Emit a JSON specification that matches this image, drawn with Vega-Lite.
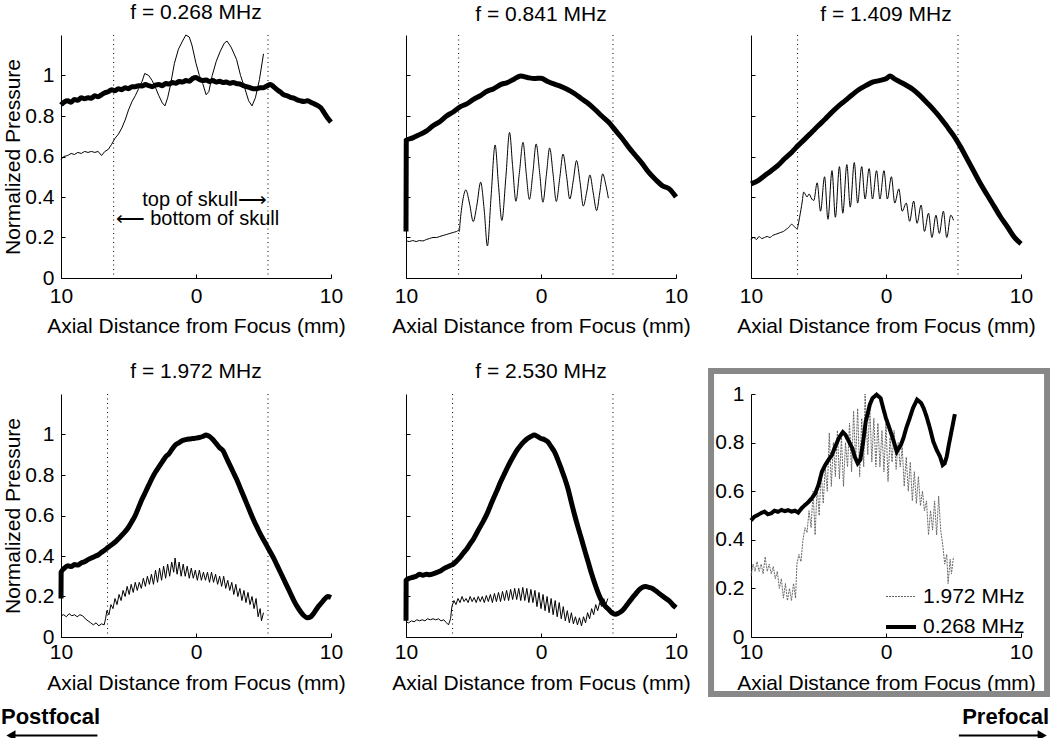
{
"$schema":"https://vega.github.io/schema/vega-lite/v6.json",
"padding":{"left":1,"top":2,"right":0,"bottom":0},
"background":"white",
"config":{
 "font":"Liberation Sans",
 "view":{"stroke":null},
 "axis":{"domainColor":"black","tickColor":"black","tickSize":-4,"labelColor":"black","labelFont":"Liberation Sans","labelFontSize":21,"titleColor":"black","titleFont":"Liberation Sans","titleFontSize":21,"titleFontWeight":"normal","grid":false},
 "title":{"font":"Liberation Sans","fontSize":21,"fontWeight":"normal","color":"black","offset":10},
 "legend":{"labelFont":"Liberation Sans","labelFontSize":21,"labelColor":"black"}
},
"datasets":{
 "skull":[{"p":1,"x":-6.1},{"p":1,"x":5.33},{"p":2,"x":-6.1},{"p":2,"x":5.33},{"p":3,"x":-6.55},{"p":3,"x":5.33},{"p":4,"x":-6.55},{"p":4,"x":5.33},{"p":5,"x":-6.55},{"p":5,"x":5.33}],
 "notes":[{"t":"top of skull⟶","x":5.25,"y":0.383,"a":"r"},{"t":"⟵ bottom of skull","x":-5.95,"y":0.293,"a":"l"}],
 "p1thin":[{"x":-10,"y":0.585},{"x":-9.8,"y":0.6},{"x":-9.5,"y":0.605},{"x":-9.25,"y":0.615},{"x":-9,"y":0.61},{"x":-8.75,"y":0.62},{"x":-8.5,"y":0.615},{"x":-8.25,"y":0.625},{"x":-8,"y":0.62},{"x":-7.75,"y":0.625},{"x":-7.5,"y":0.62},{"x":-7.25,"y":0.625},{"x":-7,"y":0.605},{"x":-6.75,"y":0.625},{"x":-6.5,"y":0.635},{"x":-6.25,"y":0.66},{"x":-6,"y":0.69},{"x":-5.75,"y":0.71},{"x":-5.5,"y":0.74},{"x":-5.25,"y":0.78},{"x":-5,"y":0.83},{"x":-4.75,"y":0.87},{"x":-4.5,"y":0.9},{"x":-4.25,"y":0.935},{"x":-4,"y":0.97},{"x":-3.8,"y":1.01},{"x":-3.5,"y":1.0},{"x":-3.25,"y":0.975},{"x":-3,"y":0.94},{"x":-2.75,"y":0.9},{"x":-2.5,"y":0.865},{"x":-2.3,"y":0.85},{"x":-2.1,"y":0.89},{"x":-1.9,"y":0.95},{"x":-1.6,"y":1.06},{"x":-1.3,"y":1.13},{"x":-1,"y":1.17},{"x":-0.75,"y":1.2},{"x":-0.5,"y":1.19},{"x":-0.3,"y":1.15},{"x":0,"y":1.06},{"x":0.25,"y":1.0},{"x":0.5,"y":0.96},{"x":0.75,"y":0.905},{"x":0.95,"y":0.92},{"x":1.2,"y":1.0},{"x":1.5,"y":1.07},{"x":1.8,"y":1.12},{"x":2.1,"y":1.16},{"x":2.3,"y":1.17},{"x":2.6,"y":1.14},{"x":3,"y":1.08},{"x":3.3,"y":1.0},{"x":3.6,"y":0.94},{"x":3.9,"y":0.875},{"x":4.15,"y":0.85},{"x":4.4,"y":0.89},{"x":4.7,"y":0.98},{"x":5,"y":1.107}],
 "p1thick":[{"x":-10,"y":0.855},{"x":-9.75,"y":0.87},{"x":-9.5,"y":0.875},{"x":-9.25,"y":0.868},{"x":-9,"y":0.882},{"x":-8.75,"y":0.878},{"x":-8.5,"y":0.89},{"x":-8.25,"y":0.885},{"x":-8,"y":0.89},{"x":-7.75,"y":0.888},{"x":-7.5,"y":0.9},{"x":-7.25,"y":0.895},{"x":-7,"y":0.905},{"x":-6.75,"y":0.915},{"x":-6.5,"y":0.92},{"x":-6.25,"y":0.93},{"x":-6,"y":0.925},{"x":-5.75,"y":0.935},{"x":-5.5,"y":0.93},{"x":-5.25,"y":0.94},{"x":-5,"y":0.935},{"x":-4.75,"y":0.945},{"x":-4.5,"y":0.945},{"x":-4.25,"y":0.95},{"x":-4,"y":0.948},{"x":-3.75,"y":0.955},{"x":-3.5,"y":0.95},{"x":-3.25,"y":0.945},{"x":-3,"y":0.952},{"x":-2.75,"y":0.955},{"x":-2.5,"y":0.95},{"x":-2.25,"y":0.96},{"x":-2,"y":0.958},{"x":-1.75,"y":0.965},{"x":-1.5,"y":0.962},{"x":-1.25,"y":0.97},{"x":-1,"y":0.968},{"x":-0.75,"y":0.975},{"x":-0.5,"y":0.972},{"x":-0.25,"y":0.985},{"x":0,"y":0.99},{"x":0.25,"y":0.98},{"x":0.5,"y":0.975},{"x":0.75,"y":0.978},{"x":1,"y":0.97},{"x":1.25,"y":0.975},{"x":1.5,"y":0.968},{"x":1.75,"y":0.972},{"x":2,"y":0.965},{"x":2.25,"y":0.968},{"x":2.5,"y":0.962},{"x":2.75,"y":0.966},{"x":3,"y":0.96},{"x":3.25,"y":0.958},{"x":3.5,"y":0.95},{"x":3.75,"y":0.945},{"x":4,"y":0.94},{"x":4.25,"y":0.935},{"x":4.5,"y":0.935},{"x":4.75,"y":0.94},{"x":5,"y":0.94},{"x":5.25,"y":0.948},{"x":5.5,"y":0.955},{"x":5.75,"y":0.945},{"x":6,"y":0.93},{"x":6.25,"y":0.918},{"x":6.5,"y":0.905},{"x":6.75,"y":0.9},{"x":7,"y":0.892},{"x":7.25,"y":0.888},{"x":7.5,"y":0.88},{"x":7.75,"y":0.875},{"x":8,"y":0.872},{"x":8.25,"y":0.875},{"x":8.5,"y":0.868},{"x":8.75,"y":0.86},{"x":9,"y":0.852},{"x":9.25,"y":0.84},{"x":9.5,"y":0.815},{"x":9.75,"y":0.79},{"x":10,"y":0.77}],
 "p2thin":[{"x":-10,"y":0.185},{"x":-9.75,"y":0.18},{"x":-9.5,"y":0.185},{"x":-9.25,"y":0.18},{"x":-9,"y":0.185},{"x":-8.75,"y":0.183},{"x":-8.5,"y":0.19},{"x":-8.25,"y":0.195},{"x":-8,"y":0.2},{"x":-7.75,"y":0.2},{"x":-7.5,"y":0.205},{"x":-7.25,"y":0.21},{"x":-7,"y":0.215},{"x":-6.75,"y":0.22},{"x":-6.5,"y":0.225},{"x":-6.25,"y":0.23},{"x":-6.1,"y":0.235},{"x":-6.05,"y":0.23},{"x":-6.0,"y":0.27},{"x":-5.8,"y":0.38},{"x":-5.57,"y":0.435},{"x":-5.3,"y":0.37},{"x":-5.02,"y":0.279},{"x":-4.75,"y":0.36},{"x":-4.47,"y":0.473},{"x":-4.2,"y":0.33},{"x":-3.97,"y":0.158},{"x":-3.7,"y":0.4},{"x":-3.4,"y":0.657},{"x":-3.15,"y":0.46},{"x":-2.9,"y":0.284},{"x":-2.6,"y":0.5},{"x":-2.33,"y":0.719},{"x":-2.1,"y":0.55},{"x":-1.86,"y":0.379},{"x":-1.6,"y":0.52},{"x":-1.33,"y":0.67},{"x":-1.1,"y":0.52},{"x":-0.86,"y":0.388},{"x":-0.6,"y":0.52},{"x":-0.36,"y":0.662},{"x":-0.1,"y":0.52},{"x":0.14,"y":0.374},{"x":0.4,"y":0.51},{"x":0.64,"y":0.642},{"x":0.9,"y":0.51},{"x":1.13,"y":0.378},{"x":1.4,"y":0.5},{"x":1.63,"y":0.612},{"x":1.9,"y":0.5},{"x":2.13,"y":0.39},{"x":2.4,"y":0.485},{"x":2.63,"y":0.58},{"x":2.9,"y":0.47},{"x":3.13,"y":0.355},{"x":3.4,"y":0.43},{"x":3.62,"y":0.509},{"x":3.87,"y":0.42},{"x":4.12,"y":0.333},{"x":4.35,"y":0.42},{"x":4.57,"y":0.514},{"x":4.8,"y":0.46},{"x":4.99,"y":0.394}],
 "p2thick":[{"x":-10,"y":0.23},{"x":-9.98,"y":0.68},{"x":-9.5,"y":0.692},{"x":-9,"y":0.708},{"x":-8.5,"y":0.725},{"x":-8,"y":0.752},{"x":-7.5,"y":0.772},{"x":-7,"y":0.8},{"x":-6.5,"y":0.82},{"x":-6,"y":0.845},{"x":-5.5,"y":0.86},{"x":-5,"y":0.882},{"x":-4.5,"y":0.9},{"x":-4,"y":0.922},{"x":-3.5,"y":0.935},{"x":-3,"y":0.955},{"x":-2.5,"y":0.965},{"x":-2,"y":0.982},{"x":-1.5,"y":0.997},{"x":-1,"y":0.99},{"x":-0.5,"y":0.985},{"x":0,"y":0.987},{"x":0.5,"y":0.97},{"x":1,"y":0.957},{"x":1.5,"y":0.945},{"x":2,"y":0.93},{"x":2.5,"y":0.91},{"x":3,"y":0.885},{"x":3.5,"y":0.862},{"x":4,"y":0.832},{"x":4.5,"y":0.8},{"x":5,"y":0.77},{"x":5.5,"y":0.73},{"x":6,"y":0.69},{"x":6.5,"y":0.645},{"x":7,"y":0.605},{"x":7.5,"y":0.565},{"x":8,"y":0.52},{"x":8.5,"y":0.485},{"x":9,"y":0.455},{"x":9.5,"y":0.44},{"x":10,"y":0.4}],
 "p3thin":[{"x":-10,"y":0.19},{"x":-9.8,"y":0.2},{"x":-9.6,"y":0.19},{"x":-9.4,"y":0.205},{"x":-9.2,"y":0.195},{"x":-9,"y":0.2},{"x":-8.8,"y":0.205},{"x":-8.6,"y":0.2},{"x":-8.4,"y":0.21},{"x":-8.2,"y":0.215},{"x":-8,"y":0.22},{"x":-7.8,"y":0.225},{"x":-7.6,"y":0.23},{"x":-7.4,"y":0.24},{"x":-7.2,"y":0.25},{"x":-7,"y":0.265},{"x":-6.8,"y":0.255},{"x":-6.6,"y":0.243},{"x":-6.4,"y":0.3},{"x":-6.2,"y":0.38},{"x":-6.1,"y":0.424},{"x":-5.95,"y":0.41},{"x":-5.85,"y":0.4},{"x":-5.7,"y":0.415},{"x":-5.5,"y":0.39},{"x":-5.35,"y":0.383},{"x":-5.1,"y":0.47},{"x":-4.85,"y":0.33},{"x":-4.55,"y":0.5},{"x":-4.3,"y":0.29},{"x":-4.0,"y":0.53},{"x":-3.75,"y":0.3},{"x":-3.45,"y":0.55},{"x":-3.2,"y":0.32},{"x":-2.9,"y":0.56},{"x":-2.65,"y":0.35},{"x":-2.35,"y":0.57},{"x":-2.1,"y":0.37},{"x":-1.8,"y":0.55},{"x":-1.55,"y":0.39},{"x":-1.25,"y":0.54},{"x":-1.0,"y":0.39},{"x":-0.7,"y":0.53},{"x":-0.45,"y":0.39},{"x":-0.15,"y":0.53},{"x":0.1,"y":0.39},{"x":0.4,"y":0.5},{"x":0.65,"y":0.37},{"x":0.95,"y":0.44},{"x":1.2,"y":0.33},{"x":1.5,"y":0.37},{"x":1.75,"y":0.28},{"x":2.05,"y":0.38},{"x":2.3,"y":0.27},{"x":2.6,"y":0.36},{"x":2.85,"y":0.23},{"x":3.15,"y":0.32},{"x":3.4,"y":0.2},{"x":3.7,"y":0.31},{"x":3.95,"y":0.22},{"x":4.25,"y":0.33},{"x":4.5,"y":0.2},{"x":4.8,"y":0.31},{"x":5.0,"y":0.285}],
 "p3thick":[{"x":-10,"y":0.465},{"x":-9.5,"y":0.48},{"x":-9,"y":0.505},{"x":-8.5,"y":0.53},{"x":-8,"y":0.556},{"x":-7.5,"y":0.59},{"x":-7,"y":0.62},{"x":-6.5,"y":0.655},{"x":-6,"y":0.687},{"x":-5.5,"y":0.72},{"x":-5,"y":0.753},{"x":-4.5,"y":0.785},{"x":-4,"y":0.819},{"x":-3.5,"y":0.85},{"x":-3,"y":0.877},{"x":-2.5,"y":0.905},{"x":-2,"y":0.931},{"x":-1.5,"y":0.95},{"x":-1,"y":0.967},{"x":-0.5,"y":0.975},{"x":0,"y":0.984},{"x":0.3,"y":0.997},{"x":0.6,"y":0.985},{"x":1,"y":0.97},{"x":1.5,"y":0.952},{"x":2,"y":0.931},{"x":2.5,"y":0.902},{"x":3,"y":0.868},{"x":3.5,"y":0.833},{"x":4,"y":0.794},{"x":4.5,"y":0.75},{"x":5,"y":0.704},{"x":5.5,"y":0.65},{"x":6,"y":0.589},{"x":6.5,"y":0.527},{"x":7,"y":0.465},{"x":7.5,"y":0.41},{"x":8,"y":0.355},{"x":8.5,"y":0.3},{"x":9,"y":0.252},{"x":9.5,"y":0.202},{"x":10,"y":0.169}],
 "p4thin":[{"x":-10,"y":0.105},{"x":-9.8,"y":0.11},{"x":-9.6,"y":0.1},{"x":-9.4,"y":0.115},{"x":-9.2,"y":0.105},{"x":-9,"y":0.11},{"x":-8.8,"y":0.1},{"x":-8.6,"y":0.11},{"x":-8.4,"y":0.105},{"x":-8.2,"y":0.09},{"x":-8,"y":0.08},{"x":-7.8,"y":0.07},{"x":-7.6,"y":0.06},{"x":-7.4,"y":0.07},{"x":-7.2,"y":0.055},{"x":-7,"y":0.065},{"x":-6.8,"y":0.06},{"x":-6.7,"y":0.09},{"x":-6.6,"y":0.13},{"x":-6.45,"y":0.11},{"x":-6.3,"y":0.16},{"x":-6.15,"y":0.14},{"x":-6.0,"y":0.19},{"x":-5.85,"y":0.16},{"x":-5.7,"y":0.21},{"x":-5.55,"y":0.18},{"x":-5.4,"y":0.23},{"x":-5.25,"y":0.2},{"x":-5.1,"y":0.25},{"x":-4.95,"y":0.21},{"x":-4.8,"y":0.26},{"x":-4.65,"y":0.22},{"x":-4.5,"y":0.27},{"x":-4.35,"y":0.23},{"x":-4.2,"y":0.27},{"x":-4.05,"y":0.24},{"x":-3.9,"y":0.29},{"x":-3.75,"y":0.25},{"x":-3.6,"y":0.3},{"x":-3.45,"y":0.26},{"x":-3.3,"y":0.31},{"x":-3.15,"y":0.26},{"x":-3.0,"y":0.33},{"x":-2.85,"y":0.27},{"x":-2.7,"y":0.34},{"x":-2.55,"y":0.28},{"x":-2.4,"y":0.35},{"x":-2.25,"y":0.29},{"x":-2.1,"y":0.36},{"x":-1.95,"y":0.3},{"x":-1.8,"y":0.37},{"x":-1.65,"y":0.32},{"x":-1.55,"y":0.39},{"x":-1.4,"y":0.31},{"x":-1.25,"y":0.37},{"x":-1.1,"y":0.3},{"x":-0.95,"y":0.36},{"x":-0.8,"y":0.3},{"x":-0.65,"y":0.35},{"x":-0.5,"y":0.29},{"x":-0.35,"y":0.34},{"x":-0.2,"y":0.29},{"x":-0.05,"y":0.33},{"x":0.1,"y":0.28},{"x":0.25,"y":0.33},{"x":0.4,"y":0.28},{"x":0.55,"y":0.32},{"x":0.7,"y":0.28},{"x":0.85,"y":0.32},{"x":1.0,"y":0.27},{"x":1.15,"y":0.32},{"x":1.3,"y":0.27},{"x":1.45,"y":0.31},{"x":1.6,"y":0.26},{"x":1.75,"y":0.3},{"x":1.9,"y":0.25},{"x":2.05,"y":0.3},{"x":2.2,"y":0.24},{"x":2.35,"y":0.28},{"x":2.5,"y":0.23},{"x":2.65,"y":0.27},{"x":2.8,"y":0.21},{"x":2.95,"y":0.26},{"x":3.1,"y":0.2},{"x":3.25,"y":0.24},{"x":3.4,"y":0.18},{"x":3.55,"y":0.23},{"x":3.7,"y":0.17},{"x":3.85,"y":0.22},{"x":4.0,"y":0.16},{"x":4.15,"y":0.2},{"x":4.3,"y":0.14},{"x":4.45,"y":0.19},{"x":4.6,"y":0.1},{"x":4.75,"y":0.14},{"x":4.85,"y":0.08},{"x":5.0,"y":0.12}],
 "p4thick":[{"x":-10,"y":0.19},{"x":-9.99,"y":0.32},{"x":-9.75,"y":0.34},{"x":-9.5,"y":0.352},{"x":-9.25,"y":0.348},{"x":-9,"y":0.358},{"x":-8.75,"y":0.355},{"x":-8.5,"y":0.366},{"x":-8.25,"y":0.372},{"x":-8,"y":0.382},{"x":-7.75,"y":0.39},{"x":-7.5,"y":0.398},{"x":-7.25,"y":0.405},{"x":-7,"y":0.418},{"x":-6.75,"y":0.43},{"x":-6.5,"y":0.443},{"x":-6.25,"y":0.455},{"x":-6,"y":0.468},{"x":-5.75,"y":0.485},{"x":-5.5,"y":0.502},{"x":-5.25,"y":0.52},{"x":-5,"y":0.542},{"x":-4.75,"y":0.57},{"x":-4.5,"y":0.6},{"x":-4.25,"y":0.64},{"x":-4,"y":0.68},{"x":-3.75,"y":0.715},{"x":-3.5,"y":0.75},{"x":-3.25,"y":0.785},{"x":-3,"y":0.815},{"x":-2.75,"y":0.84},{"x":-2.5,"y":0.865},{"x":-2.25,"y":0.89},{"x":-2,"y":0.905},{"x":-1.75,"y":0.93},{"x":-1.5,"y":0.95},{"x":-1.25,"y":0.96},{"x":-1,"y":0.97},{"x":-0.75,"y":0.975},{"x":-0.5,"y":0.978},{"x":-0.25,"y":0.98},{"x":0,"y":0.982},{"x":0.25,"y":0.985},{"x":0.5,"y":0.99},{"x":0.75,"y":0.998},{"x":1,"y":0.99},{"x":1.25,"y":0.975},{"x":1.5,"y":0.955},{"x":1.75,"y":0.935},{"x":2,"y":0.92},{"x":2.25,"y":0.885},{"x":2.5,"y":0.85},{"x":2.75,"y":0.815},{"x":3,"y":0.78},{"x":3.25,"y":0.74},{"x":3.5,"y":0.7},{"x":3.75,"y":0.66},{"x":4,"y":0.62},{"x":4.25,"y":0.58},{"x":4.5,"y":0.545},{"x":4.75,"y":0.51},{"x":5,"y":0.48},{"x":5.25,"y":0.45},{"x":5.5,"y":0.42},{"x":5.75,"y":0.39},{"x":6,"y":0.355},{"x":6.25,"y":0.32},{"x":6.5,"y":0.285},{"x":6.75,"y":0.25},{"x":7,"y":0.215},{"x":7.25,"y":0.18},{"x":7.5,"y":0.15},{"x":7.75,"y":0.125},{"x":8,"y":0.105},{"x":8.25,"y":0.095},{"x":8.5,"y":0.1},{"x":8.75,"y":0.12},{"x":9,"y":0.145},{"x":9.25,"y":0.165},{"x":9.5,"y":0.185},{"x":9.75,"y":0.2},{"x":10,"y":0.195}],
 "p5thin":[{"x":-10,"y":0.075},{"x":-9.8,"y":0.07},{"x":-9.6,"y":0.08},{"x":-9.4,"y":0.075},{"x":-9.2,"y":0.085},{"x":-9,"y":0.08},{"x":-8.8,"y":0.085},{"x":-8.6,"y":0.08},{"x":-8.4,"y":0.09},{"x":-8.2,"y":0.085},{"x":-8,"y":0.09},{"x":-7.8,"y":0.085},{"x":-7.6,"y":0.09},{"x":-7.4,"y":0.08},{"x":-7.2,"y":0.085},{"x":-7,"y":0.07},{"x":-6.85,"y":0.06},{"x":-6.7,"y":0.09},{"x":-6.6,"y":0.15},{"x":-6.45,"y":0.18},{"x":-6.3,"y":0.16},{"x":-6.15,"y":0.19},{"x":-6,"y":0.17},{"x":-5.85,"y":0.2},{"x":-5.7,"y":0.175},{"x":-5.55,"y":0.19},{"x":-5.4,"y":0.17},{"x":-5.25,"y":0.2},{"x":-5.1,"y":0.175},{"x":-4.95,"y":0.195},{"x":-4.8,"y":0.17},{"x":-4.65,"y":0.2},{"x":-4.5,"y":0.175},{"x":-4.35,"y":0.2},{"x":-4.2,"y":0.17},{"x":-4.05,"y":0.205},{"x":-3.9,"y":0.175},{"x":-3.75,"y":0.21},{"x":-3.6,"y":0.17},{"x":-3.45,"y":0.215},{"x":-3.3,"y":0.175},{"x":-3.15,"y":0.22},{"x":-3.0,"y":0.175},{"x":-2.85,"y":0.225},{"x":-2.7,"y":0.18},{"x":-2.55,"y":0.23},{"x":-2.4,"y":0.18},{"x":-2.25,"y":0.235},{"x":-2.1,"y":0.185},{"x":-1.95,"y":0.24},{"x":-1.8,"y":0.185},{"x":-1.65,"y":0.24},{"x":-1.5,"y":0.18},{"x":-1.35,"y":0.245},{"x":-1.2,"y":0.18},{"x":-1.05,"y":0.24},{"x":-0.9,"y":0.17},{"x":-0.75,"y":0.235},{"x":-0.6,"y":0.17},{"x":-0.45,"y":0.23},{"x":-0.3,"y":0.15},{"x":-0.15,"y":0.22},{"x":0,"y":0.14},{"x":0.15,"y":0.21},{"x":0.3,"y":0.13},{"x":0.45,"y":0.2},{"x":0.6,"y":0.12},{"x":0.75,"y":0.19},{"x":0.9,"y":0.11},{"x":1.05,"y":0.18},{"x":1.2,"y":0.1},{"x":1.35,"y":0.17},{"x":1.5,"y":0.09},{"x":1.65,"y":0.15},{"x":1.8,"y":0.08},{"x":1.95,"y":0.13},{"x":2.1,"y":0.07},{"x":2.25,"y":0.12},{"x":2.4,"y":0.065},{"x":2.55,"y":0.1},{"x":2.7,"y":0.06},{"x":2.85,"y":0.095},{"x":3.0,"y":0.055},{"x":3.15,"y":0.1},{"x":3.3,"y":0.07},{"x":3.45,"y":0.12},{"x":3.6,"y":0.09},{"x":3.75,"y":0.14},{"x":3.9,"y":0.11},{"x":4.05,"y":0.16},{"x":4.2,"y":0.13},{"x":4.35,"y":0.17},{"x":4.5,"y":0.15},{"x":4.65,"y":0.19},{"x":4.8,"y":0.16},{"x":4.95,"y":0.19}],
 "p5thick":[{"x":-10,"y":0.08},{"x":-9.99,"y":0.28},{"x":-9.75,"y":0.29},{"x":-9.5,"y":0.295},{"x":-9.25,"y":0.3},{"x":-9,"y":0.31},{"x":-8.75,"y":0.305},{"x":-8.5,"y":0.31},{"x":-8.25,"y":0.308},{"x":-8,"y":0.312},{"x":-7.75,"y":0.318},{"x":-7.5,"y":0.325},{"x":-7.25,"y":0.335},{"x":-7,"y":0.344},{"x":-6.75,"y":0.352},{"x":-6.5,"y":0.36},{"x":-6.25,"y":0.375},{"x":-6,"y":0.393},{"x":-5.75,"y":0.415},{"x":-5.5,"y":0.435},{"x":-5.25,"y":0.46},{"x":-5,"y":0.484},{"x":-4.75,"y":0.515},{"x":-4.5,"y":0.545},{"x":-4.25,"y":0.575},{"x":-4,"y":0.608},{"x":-3.75,"y":0.648},{"x":-3.5,"y":0.688},{"x":-3.25,"y":0.725},{"x":-3,"y":0.765},{"x":-2.75,"y":0.8},{"x":-2.5,"y":0.835},{"x":-2.25,"y":0.868},{"x":-2,"y":0.898},{"x":-1.75,"y":0.925},{"x":-1.5,"y":0.947},{"x":-1.25,"y":0.965},{"x":-1,"y":0.98},{"x":-0.75,"y":0.99},{"x":-0.5,"y":0.997},{"x":-0.25,"y":0.99},{"x":0,"y":0.98},{"x":0.25,"y":0.975},{"x":0.5,"y":0.964},{"x":0.75,"y":0.94},{"x":1,"y":0.914},{"x":1.25,"y":0.875},{"x":1.5,"y":0.831},{"x":1.75,"y":0.785},{"x":2,"y":0.732},{"x":2.25,"y":0.665},{"x":2.5,"y":0.6},{"x":2.75,"y":0.54},{"x":3,"y":0.484},{"x":3.25,"y":0.425},{"x":3.5,"y":0.369},{"x":3.75,"y":0.312},{"x":4,"y":0.261},{"x":4.25,"y":0.215},{"x":4.5,"y":0.178},{"x":4.75,"y":0.153},{"x":5,"y":0.137},{"x":5.25,"y":0.12},{"x":5.5,"y":0.112},{"x":5.75,"y":0.118},{"x":6,"y":0.129},{"x":6.25,"y":0.148},{"x":6.5,"y":0.17},{"x":6.75,"y":0.192},{"x":7,"y":0.212},{"x":7.25,"y":0.232},{"x":7.5,"y":0.245},{"x":7.75,"y":0.25},{"x":8,"y":0.245},{"x":8.25,"y":0.24},{"x":8.5,"y":0.228},{"x":8.75,"y":0.215},{"x":9,"y":0.203},{"x":9.25,"y":0.19},{"x":9.5,"y":0.178},{"x":9.75,"y":0.16},{"x":10,"y":0.145}],
 "p6":[{"s":"1.972 MHz","x":-10,"y":0.25},{"s":"1.972 MHz","x":-9.85,"y":0.3},{"s":"1.972 MHz","x":-9.7,"y":0.27},{"s":"1.972 MHz","x":-9.55,"y":0.31},{"s":"1.972 MHz","x":-9.4,"y":0.27},{"s":"1.972 MHz","x":-9.25,"y":0.3},{"s":"1.972 MHz","x":-9.1,"y":0.26},{"s":"1.972 MHz","x":-8.95,"y":0.33},{"s":"1.972 MHz","x":-8.8,"y":0.27},{"s":"1.972 MHz","x":-8.65,"y":0.3},{"s":"1.972 MHz","x":-8.5,"y":0.26},{"s":"1.972 MHz","x":-8.35,"y":0.29},{"s":"1.972 MHz","x":-8.2,"y":0.24},{"s":"1.972 MHz","x":-8.05,"y":0.27},{"s":"1.972 MHz","x":-7.9,"y":0.2},{"s":"1.972 MHz","x":-7.75,"y":0.24},{"s":"1.972 MHz","x":-7.6,"y":0.16},{"s":"1.972 MHz","x":-7.45,"y":0.22},{"s":"1.972 MHz","x":-7.3,"y":0.15},{"s":"1.972 MHz","x":-7.15,"y":0.2},{"s":"1.972 MHz","x":-7.0,"y":0.15},{"s":"1.972 MHz","x":-6.85,"y":0.22},{"s":"1.972 MHz","x":-6.7,"y":0.16},{"s":"1.972 MHz","x":-6.6,"y":0.3},{"s":"1.972 MHz","x":-6.45,"y":0.34},{"s":"1.972 MHz","x":-6.3,"y":0.31},{"s":"1.972 MHz","x":-6.15,"y":0.4},{"s":"1.972 MHz","x":-6.0,"y":0.45},{"s":"1.972 MHz","x":-5.85,"y":0.43},{"s":"1.972 MHz","x":-5.7,"y":0.52},{"s":"1.972 MHz","x":-5.55,"y":0.45},{"s":"1.972 MHz","x":-5.4,"y":0.6},{"s":"1.972 MHz","x":-5.25,"y":0.42},{"s":"1.972 MHz","x":-5.1,"y":0.62},{"s":"1.972 MHz","x":-4.95,"y":0.5},{"s":"1.972 MHz","x":-4.8,"y":0.68},{"s":"1.972 MHz","x":-4.65,"y":0.55},{"s":"1.972 MHz","x":-4.5,"y":0.7},{"s":"1.972 MHz","x":-4.35,"y":0.6},{"s":"1.972 MHz","x":-4.2,"y":0.84},{"s":"1.972 MHz","x":-4.05,"y":0.62},{"s":"1.972 MHz","x":-3.9,"y":0.8},{"s":"1.972 MHz","x":-3.75,"y":0.66},{"s":"1.972 MHz","x":-3.6,"y":0.85},{"s":"1.972 MHz","x":-3.45,"y":0.65},{"s":"1.972 MHz","x":-3.3,"y":0.82},{"s":"1.972 MHz","x":-3.15,"y":0.62},{"s":"1.972 MHz","x":-3.0,"y":0.8},{"s":"1.972 MHz","x":-2.85,"y":0.7},{"s":"1.972 MHz","x":-2.7,"y":0.88},{"s":"1.972 MHz","x":-2.55,"y":0.68},{"s":"1.972 MHz","x":-2.4,"y":0.93},{"s":"1.972 MHz","x":-2.25,"y":0.72},{"s":"1.972 MHz","x":-2.1,"y":0.94},{"s":"1.972 MHz","x":-1.95,"y":0.66},{"s":"1.972 MHz","x":-1.8,"y":0.9},{"s":"1.972 MHz","x":-1.65,"y":0.7},{"s":"1.972 MHz","x":-1.55,"y":1.0},{"s":"1.972 MHz","x":-1.35,"y":0.75},{"s":"1.972 MHz","x":-1.2,"y":0.95},{"s":"1.972 MHz","x":-1.05,"y":0.72},{"s":"1.972 MHz","x":-0.9,"y":0.9},{"s":"1.972 MHz","x":-0.75,"y":0.7},{"s":"1.972 MHz","x":-0.6,"y":0.88},{"s":"1.972 MHz","x":-0.45,"y":0.7},{"s":"1.972 MHz","x":-0.3,"y":0.85},{"s":"1.972 MHz","x":-0.15,"y":0.68},{"s":"1.972 MHz","x":0,"y":0.88},{"s":"1.972 MHz","x":0.15,"y":0.64},{"s":"1.972 MHz","x":0.3,"y":0.82},{"s":"1.972 MHz","x":0.45,"y":0.72},{"s":"1.972 MHz","x":0.6,"y":0.85},{"s":"1.972 MHz","x":0.75,"y":0.69},{"s":"1.972 MHz","x":0.9,"y":0.8},{"s":"1.972 MHz","x":1.05,"y":0.7},{"s":"1.972 MHz","x":1.2,"y":0.78},{"s":"1.972 MHz","x":1.35,"y":0.62},{"s":"1.972 MHz","x":1.5,"y":0.74},{"s":"1.972 MHz","x":1.65,"y":0.6},{"s":"1.972 MHz","x":1.8,"y":0.72},{"s":"1.972 MHz","x":1.95,"y":0.56},{"s":"1.972 MHz","x":2.1,"y":0.68},{"s":"1.972 MHz","x":2.25,"y":0.55},{"s":"1.972 MHz","x":2.4,"y":0.66},{"s":"1.972 MHz","x":2.55,"y":0.54},{"s":"1.972 MHz","x":2.7,"y":0.6},{"s":"1.972 MHz","x":2.85,"y":0.52},{"s":"1.972 MHz","x":3.0,"y":0.56},{"s":"1.972 MHz","x":3.15,"y":0.42},{"s":"1.972 MHz","x":3.3,"y":0.52},{"s":"1.972 MHz","x":3.45,"y":0.44},{"s":"1.972 MHz","x":3.6,"y":0.56},{"s":"1.972 MHz","x":3.75,"y":0.42},{"s":"1.972 MHz","x":3.9,"y":0.58},{"s":"1.972 MHz","x":4.05,"y":0.44},{"s":"1.972 MHz","x":4.2,"y":0.38},{"s":"1.972 MHz","x":4.35,"y":0.3},{"s":"1.972 MHz","x":4.5,"y":0.34},{"s":"1.972 MHz","x":4.6,"y":0.22},{"s":"1.972 MHz","x":4.75,"y":0.32},{"s":"1.972 MHz","x":4.85,"y":0.26},{"s":"1.972 MHz","x":5.0,"y":0.33},
 {"s":"0.268 MHz","x":-10,"y":0.48},{"s":"0.268 MHz","x":-9.75,"y":0.495},{"s":"0.268 MHz","x":-9.5,"y":0.502},{"s":"0.268 MHz","x":-9.25,"y":0.51},{"s":"0.268 MHz","x":-9,"y":0.516},{"s":"0.268 MHz","x":-8.75,"y":0.505},{"s":"0.268 MHz","x":-8.5,"y":0.509},{"s":"0.268 MHz","x":-8.25,"y":0.52},{"s":"0.268 MHz","x":-8,"y":0.515},{"s":"0.268 MHz","x":-7.75,"y":0.523},{"s":"0.268 MHz","x":-7.5,"y":0.518},{"s":"0.268 MHz","x":-7.25,"y":0.522},{"s":"0.268 MHz","x":-7,"y":0.516},{"s":"0.268 MHz","x":-6.75,"y":0.52},{"s":"0.268 MHz","x":-6.5,"y":0.512},{"s":"0.268 MHz","x":-6.25,"y":0.53},{"s":"0.268 MHz","x":-6,"y":0.543},{"s":"0.268 MHz","x":-5.75,"y":0.555},{"s":"0.268 MHz","x":-5.5,"y":0.571},{"s":"0.268 MHz","x":-5.25,"y":0.59},{"s":"0.268 MHz","x":-5,"y":0.626},{"s":"0.268 MHz","x":-4.75,"y":0.68},{"s":"0.268 MHz","x":-4.5,"y":0.708},{"s":"0.268 MHz","x":-4.25,"y":0.73},{"s":"0.268 MHz","x":-4,"y":0.75},{"s":"0.268 MHz","x":-3.75,"y":0.785},{"s":"0.268 MHz","x":-3.5,"y":0.818},{"s":"0.268 MHz","x":-3.2,"y":0.843},{"s":"0.268 MHz","x":-3,"y":0.832},{"s":"0.268 MHz","x":-2.75,"y":0.805},{"s":"0.268 MHz","x":-2.5,"y":0.777},{"s":"0.268 MHz","x":-2.3,"y":0.74},{"s":"0.268 MHz","x":-2.1,"y":0.715},{"s":"0.268 MHz","x":-1.9,"y":0.73},{"s":"0.268 MHz","x":-1.7,"y":0.8},{"s":"0.268 MHz","x":-1.5,"y":0.887},{"s":"0.268 MHz","x":-1.2,"y":0.956},{"s":"0.268 MHz","x":-1,"y":0.983},{"s":"0.268 MHz","x":-0.7,"y":0.997},{"s":"0.268 MHz","x":-0.4,"y":0.983},{"s":"0.268 MHz","x":-0.2,"y":0.94},{"s":"0.268 MHz","x":0,"y":0.9},{"s":"0.268 MHz","x":0.25,"y":0.86},{"s":"0.268 MHz","x":0.5,"y":0.818},{"s":"0.268 MHz","x":0.8,"y":0.763},{"s":"0.268 MHz","x":1.1,"y":0.79},{"s":"0.268 MHz","x":1.3,"y":0.82},{"s":"0.268 MHz","x":1.5,"y":0.86},{"s":"0.268 MHz","x":1.75,"y":0.9},{"s":"0.268 MHz","x":2,"y":0.942},{"s":"0.268 MHz","x":2.3,"y":0.977},{"s":"0.268 MHz","x":2.6,"y":0.963},{"s":"0.268 MHz","x":2.8,"y":0.94},{"s":"0.268 MHz","x":3,"y":0.908},{"s":"0.268 MHz","x":3.25,"y":0.86},{"s":"0.268 MHz","x":3.5,"y":0.805},{"s":"0.268 MHz","x":3.75,"y":0.77},{"s":"0.268 MHz","x":4,"y":0.743},{"s":"0.268 MHz","x":4.2,"y":0.708},{"s":"0.268 MHz","x":4.35,"y":0.715},{"s":"0.268 MHz","x":4.5,"y":0.743},{"s":"0.268 MHz","x":4.65,"y":0.79},{"s":"0.268 MHz","x":4.8,"y":0.832},{"s":"0.268 MHz","x":5.1,"y":0.917}],
 "annot":[{"label":"Postfocal","tx":0,"a1":0.092,"a2":0.01,"head":0.0095,"dir":"left"},{"label":"Prefocal","tx":1,"a1":0.914,"a2":0.99,"head":0.9935,"dir":"right"}]
},
"bounds":"full",
"spacing":8,
"vconcat":[
{"concat":[
 {"title":{"text":"f = 0.268 MHz","offset":10},"width":270,"height":243,
  "layer":[
   {"data":{"name":"p1thin"},"mark":{"type":"line","color":"black","strokeWidth":1},
    "encoding":{"x":{"field":"x","type":"quantitative","scale":{"domain":[-10,10]},"axis":{"values":[-10,0,10],"labelExpr":"'' + abs(datum.value)","labelFlush":false,"labelOverlap":false,"title":"Axial Distance from Focus (mm)","labelPadding":11,"titlePadding":9}},
     "y":{"field":"y","type":"quantitative","scale":{"domain":[0,1.2]},"axis":{"values":[0,0.2,0.4,0.6,0.8,1],"format":"~g","title":"Normalized Pressure","labelPadding":11,"titlePadding":1}}}},
   {"data":{"name":"p1thick"},"mark":{"type":"line","color":"black","strokeWidth":5,"interpolate":"monotone"},
    "encoding":{"x":{"field":"x","type":"quantitative"},"y":{"field":"y","type":"quantitative"}}},
   {"data":{"name":"skull"},"transform":[{"filter":"datum.p==1"}],"mark":{"type":"rule","color":"black","strokeDash":[1,3.5],"strokeWidth":1},
    "encoding":{"x":{"field":"x","type":"quantitative"}}},
   {"data":{"name":"notes"},"transform":[{"filter":"datum.a=='r'"}],"mark":{"type":"text","align":"right","baseline":"middle","fontSize":20,"font":"Liberation Sans","color":"black"},
    "encoding":{"x":{"field":"x","type":"quantitative"},"y":{"field":"y","type":"quantitative"},"text":{"field":"t"}}},
   {"data":{"name":"notes"},"transform":[{"filter":"datum.a=='l'"}],"mark":{"type":"text","align":"left","baseline":"middle","fontSize":20,"font":"Liberation Sans","color":"black"},
    "encoding":{"x":{"field":"x","type":"quantitative"},"y":{"field":"y","type":"quantitative"},"text":{"field":"t"}}}
  ]},
 {"title":{"text":"f = 0.841 MHz","offset":10},"width":270,"height":243,
  "layer":[
   {"data":{"name":"p2thin"},"mark":{"type":"line","color":"black","strokeWidth":1,"interpolate":"monotone"},
    "encoding":{"x":{"field":"x","type":"quantitative","scale":{"domain":[-10,10]},"axis":{"values":[-10,0,10],"labelExpr":"'' + abs(datum.value)","labelFlush":false,"labelOverlap":false,"title":"Axial Distance from Focus (mm)","labelPadding":11,"titlePadding":9}},
     "y":{"field":"y","type":"quantitative","scale":{"domain":[0,1.2]},"axis":{"values":[0,0.2,0.4,0.6,0.8,1],"labels":false,"title":null}}}},
   {"data":{"name":"p2thick"},"mark":{"type":"line","color":"black","strokeWidth":5,"interpolate":"monotone"},
    "encoding":{"x":{"field":"x","type":"quantitative"},"y":{"field":"y","type":"quantitative"}}},
   {"data":{"name":"skull"},"transform":[{"filter":"datum.p==2"}],"mark":{"type":"rule","color":"black","strokeDash":[1,3.5],"strokeWidth":1},
    "encoding":{"x":{"field":"x","type":"quantitative"}}}
  ]},
 {"title":{"text":"f = 1.409 MHz","offset":10},"width":270,"height":243,
  "layer":[
   {"data":{"name":"p3thin"},"mark":{"type":"line","color":"black","strokeWidth":1,"interpolate":"monotone"},
    "encoding":{"x":{"field":"x","type":"quantitative","scale":{"domain":[-10,10]},"axis":{"values":[-10,0,10],"labelExpr":"'' + abs(datum.value)","labelFlush":false,"labelOverlap":false,"title":"Axial Distance from Focus (mm)","labelPadding":11,"titlePadding":9}},
     "y":{"field":"y","type":"quantitative","scale":{"domain":[0,1.2]},"axis":{"values":[0,0.2,0.4,0.6,0.8,1],"labels":false,"title":null}}}},
   {"data":{"name":"p3thick"},"mark":{"type":"line","color":"black","strokeWidth":5,"interpolate":"monotone"},
    "encoding":{"x":{"field":"x","type":"quantitative"},"y":{"field":"y","type":"quantitative"}}},
   {"data":{"name":"skull"},"transform":[{"filter":"datum.p==3"}],"mark":{"type":"rule","color":"black","strokeDash":[1,3.5],"strokeWidth":1},
    "encoding":{"x":{"field":"x","type":"quantitative"}}}
  ]},
 {"title":{"text":"f = 1.972 MHz","offset":12},"width":270,"height":243,
  "layer":[
   {"data":{"name":"p4thin"},"mark":{"type":"line","color":"black","strokeWidth":1},
    "encoding":{"x":{"field":"x","type":"quantitative","scale":{"domain":[-10,10]},"axis":{"values":[-10,0,10],"labelExpr":"'' + abs(datum.value)","labelFlush":false,"labelOverlap":false,"title":"Axial Distance from Focus (mm)","labelPadding":8,"titlePadding":10}},
     "y":{"field":"y","type":"quantitative","scale":{"domain":[0,1.2]},"axis":{"values":[0,0.2,0.4,0.6,0.8,1],"format":"~g","title":"Normalized Pressure","labelPadding":11,"titlePadding":1}}}},
   {"data":{"name":"p4thick"},"mark":{"type":"line","color":"black","strokeWidth":5,"interpolate":"monotone"},
    "encoding":{"x":{"field":"x","type":"quantitative"},"y":{"field":"y","type":"quantitative"}}},
   {"data":{"name":"skull"},"transform":[{"filter":"datum.p==4"}],"mark":{"type":"rule","color":"black","strokeDash":[1,3.5],"strokeWidth":1},
    "encoding":{"x":{"field":"x","type":"quantitative"}}}
  ]},
 {"title":{"text":"f = 2.530 MHz","offset":12},"width":270,"height":243,
  "layer":[
   {"data":{"name":"p5thin"},"mark":{"type":"line","color":"black","strokeWidth":1},
    "encoding":{"x":{"field":"x","type":"quantitative","scale":{"domain":[-10,10]},"axis":{"values":[-10,0,10],"labelExpr":"'' + abs(datum.value)","labelFlush":false,"labelOverlap":false,"title":"Axial Distance from Focus (mm)","labelPadding":8,"titlePadding":10}},
     "y":{"field":"y","type":"quantitative","scale":{"domain":[0,1.2]},"axis":{"values":[0,0.2,0.4,0.6,0.8,1],"labels":false,"title":null}}}},
   {"data":{"name":"p5thick"},"mark":{"type":"line","color":"black","strokeWidth":5,"interpolate":"monotone"},
    "encoding":{"x":{"field":"x","type":"quantitative"},"y":{"field":"y","type":"quantitative"}}},
   {"data":{"name":"skull"},"transform":[{"filter":"datum.p==5"}],"mark":{"type":"rule","color":"black","strokeDash":[1,3.5],"strokeWidth":1},
    "encoding":{"x":{"field":"x","type":"quantitative"}}}
  ]},
 {"width":270,"height":243,
  "layer":[
   {"data":{"values":[{}]},"mark":{"type":"rect","fill":null,"stroke":"#888888","strokeWidth":6,"clip":false},
    "encoding":{"x":{"datum":-12.96,"type":"quantitative","scale":{"domain":[-10,10]},"axis":{"values":[-10,0,10],"labelExpr":"'' + abs(datum.value)","labelFlush":false,"labelOverlap":false,"title":"Axial Distance from Focus (mm)","labelPadding":8,"titlePadding":10}},"x2":{"datum":11.93},
     "y":{"datum":1.095,"type":"quantitative","scale":{"domain":[0,1]},"axis":{"values":[0,0.2,0.4,0.6,0.8,1],"format":"~g","title":null,"labelPadding":11}},"y2":{"datum":-0.235}}},
   {"data":{"name":"p6"},"mark":{"type":"line"},
    "encoding":{"x":{"field":"x","type":"quantitative"},"y":{"field":"y","type":"quantitative"},
     "color":{"field":"s","type":"nominal","scale":{"domain":["1.972 MHz","0.268 MHz"],"range":["#666666","#000000"]},"legend":{"title":null,"orient":"none","legendX":823,"legendY":546,"padding":0,"symbolType":"stroke","symbolSize":900,"labelOffset":5,"rowPadding":3,"labelFontSize":21}},
     "strokeWidth":{"field":"s","type":"nominal","scale":{"domain":["1.972 MHz","0.268 MHz"],"range":[1,4]},"legend":{"title":null,"orient":"none","legendX":823,"legendY":546,"padding":0,"symbolType":"stroke","symbolSize":900,"labelOffset":5,"rowPadding":3,"labelFontSize":21}},
     "strokeDash":{"field":"s","type":"nominal","scale":{"domain":["1.972 MHz","0.268 MHz"],"range":[[2,1],[1,0]]},"legend":{"title":null,"orient":"none","legendX":823,"legendY":546,"padding":0,"symbolType":"stroke","symbolSize":900,"labelOffset":5,"rowPadding":3,"labelFontSize":21}}}}
  ]}
 ],
 "columns":3,"spacing":{"row":116,"column":75},"bounds":"flush"},
{"width":988,"height":34,"data":{"name":"annot"},
 "layer":[
  {"transform":[{"filter":"datum.dir=='left'"}],"mark":{"type":"text","align":"left","baseline":"top","fontSize":22,"fontWeight":"bold","font":"Liberation Sans","color":"black"},
   "encoding":{"x":{"field":"tx","type":"quantitative","scale":{"domain":[0,1],"range":[-60,988]},"axis":null},"y":{"datum":1,"type":"quantitative","scale":{"domain":[0,1]},"axis":null},"text":{"field":"label"}}},
  {"transform":[{"filter":"datum.dir=='right'"}],"mark":{"type":"text","align":"right","baseline":"top","fontSize":22,"fontWeight":"bold","font":"Liberation Sans","color":"black"},
   "encoding":{"x":{"field":"tx","type":"quantitative"},"y":{"datum":1,"type":"quantitative"},"text":{"field":"label"}}},
  {"mark":{"type":"rule","color":"black","strokeWidth":2},
   "encoding":{"x":{"field":"a1","type":"quantitative"},"x2":{"field":"a2"},"y":{"datum":0.16,"type":"quantitative"}}},
  {"mark":{"type":"point","filled":true,"opacity":1,"color":"black","size":110},
   "encoding":{"x":{"field":"head","type":"quantitative"},"y":{"datum":0.16,"type":"quantitative"},"shape":{"field":"dir","type":"nominal","scale":{"domain":["left","right"],"range":["triangle-left","triangle-right"]},"legend":null}}}
 ]}
]
}
